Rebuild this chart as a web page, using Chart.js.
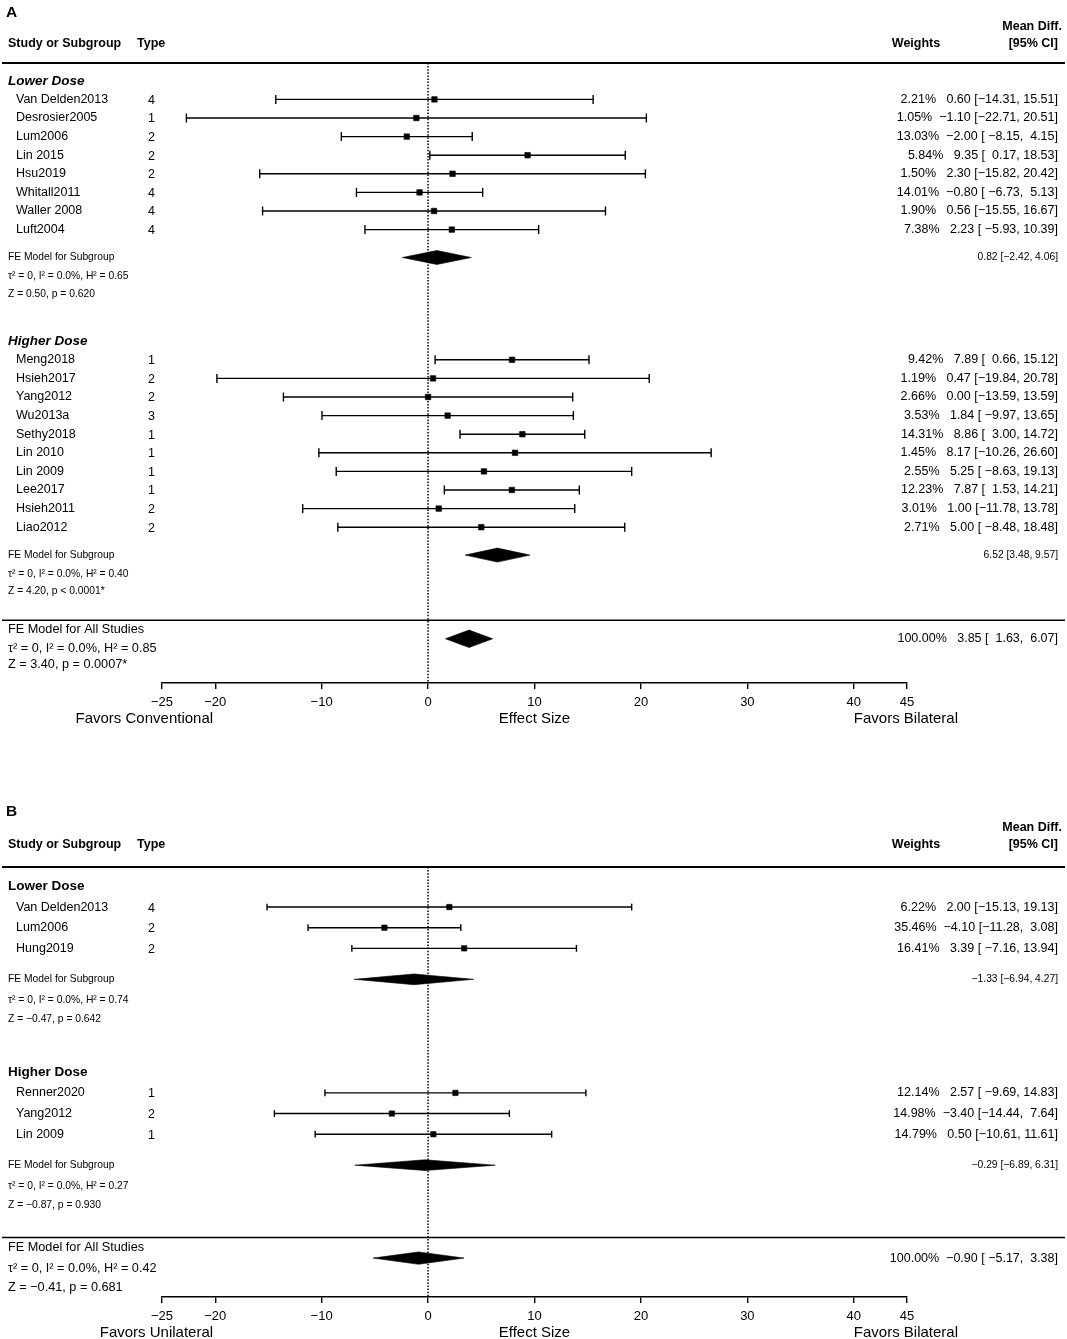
<!DOCTYPE html>
<html>
<head>
<meta charset="utf-8">
<script src="https://cdn.jsdelivr.net/npm/chart.js@4.4.0/dist/chart.umd.min.js"></script>
<style>
  html, body { margin: 0; padding: 0; background: #fff; overflow: hidden; }
  .panel { position: absolute; left: 0; }
</style>
</head>
<body>
<div class="panel" style="top:0px"><canvas id="chartA" width="1067" height="733"></canvas></div>
<div class="panel" style="top:790px"><canvas id="chartB" width="1067" height="557"></canvas></div>
<script>
// ---------- panel A : bilateral vs conventional ----------
var aStudy = ['Van Delden2013', 'Desrosier2005', 'Lum2006', 'Lin 2015', 'Hsu2019', 'Whitall2011', 'Waller 2008', 'Luft2004',
  'Meng2018', 'Hsieh2017', 'Yang2012', 'Wu2013a', 'Sethy2018', 'Lin 2010', 'Lin 2009', 'Lee2017', 'Hsieh2011', 'Liao2012'];
var aType   = [4, 1, 2, 2, 2, 4, 4, 4,  1, 2, 2, 3, 1, 1, 1, 1, 2, 2];
var aGroup  = [0, 0, 0, 0, 0, 0, 0, 0,  1, 1, 1, 1, 1, 1, 1, 1, 1, 1];
var aWeight = [2.21, 1.05, 13.03, 5.84, 1.50, 14.01, 1.90, 7.38,  9.42, 1.19, 2.66, 3.53, 14.31, 1.45, 2.55, 12.23, 3.01, 2.71];
var aEst    = [0.60, -1.10, -2.00, 9.35, 2.30, -0.80, 0.56, 2.23,  7.89, 0.47, 0.00, 1.84, 8.86, 8.17, 5.25, 7.87, 1.00, 5.00];
var aLower  = [-14.31, -22.71, -8.15, 0.17, -15.82, -6.73, -15.55, -5.93,  0.66, -19.84, -13.59, -9.97, 3.00, -10.26, -8.63, 1.53, -11.78, -8.48];
var aUpper  = [15.51, 20.51, 4.15, 18.53, 20.42, 5.13, 16.67, 10.39,  15.12, 20.78, 13.59, 13.65, 14.72, 26.60, 19.13, 14.21, 13.78, 18.48];
var aGroupName  = ['Lower Dose', 'Higher Dose'];
var aGroupEst   = [0.82, 6.52];
var aGroupLower = [-2.42, 3.48];
var aGroupUpper = [4.06, 9.57];
var aGroupHet   = ['\u03c4\u00b2 = 0, I\u00b2 = 0.0%, H\u00b2 = 0.65', '\u03c4\u00b2 = 0, I\u00b2 = 0.0%, H\u00b2 = 0.40'];
var aGroupZ     = ['Z = 0.50, p = 0.620', 'Z = 4.20, p < 0.0001*'];
var aOverall    = [3.85, 1.63, 6.07];   // est, lower, upper
var aOverallHet = '\u03c4\u00b2 = 0, I\u00b2 = 0.0%, H\u00b2 = 0.85';
var aOverallZ   = 'Z = 3.40, p = 0.0007*';
var aFavors     = ['Favors Conventional', 'Favors Bilateral'];

// ---------- panel B : bilateral vs unilateral ----------
var bStudy  = ['Van Delden2013', 'Lum2006', 'Hung2019', 'Renner2020', 'Yang2012', 'Lin 2009'];
var bType   = [4, 2, 2, 1, 2, 1];
var bGroup  = [0, 0, 0, 1, 1, 1];
var bWeight = [6.22, 35.46, 16.41, 12.14, 14.98, 14.79];
var bEst    = [2.00, -4.10, 3.39, 2.57, -3.40, 0.50];
var bLower  = [-15.13, -11.28, -7.16, -9.69, -14.44, -10.61];
var bUpper  = [19.13, 3.08, 13.94, 14.83, 7.64, 11.61];
var bGroupName  = ['Lower Dose', 'Higher Dose'];
var bGroupEst   = [-1.33, -0.29];
var bGroupLower = [-6.94, -6.89];
var bGroupUpper = [4.27, 6.31];
var bGroupHet   = ['\u03c4\u00b2 = 0, I\u00b2 = 0.0%, H\u00b2 = 0.74', '\u03c4\u00b2 = 0, I\u00b2 = 0.0%, H\u00b2 = 0.27'];
var bGroupZ     = ['Z = \u22120.47, p = 0.642', 'Z = \u22120.87, p = 0.930'];
var bOverall    = [-0.90, -5.17, 3.38];
var bOverallHet = '\u03c4\u00b2 = 0, I\u00b2 = 0.0%, H\u00b2 = 0.42';
var bOverallZ   = 'Z = \u22120.41, p = 0.681';
var bFavors     = ['Favors Unilateral', 'Favors Bilateral'];

var xTicks = [-25, -20, -10, 0, 10, 20, 30, 40, 45];

var FONT = '"Liberation Sans", Arial, Helvetica, sans-serif';
Chart.defaults.font.family = FONT;
Chart.defaults.color = '#000';

function fmt(v) { return v.toFixed(2).replace('-', '\u2212'); }
function pad(s, w) { while (s.length < w) s = ' ' + s; return s; }

function drawPanel(id, d, look) {
  // row layout of the forest plot (row units, top to bottom)
  var studyRow = [], headRow = [], sumRow = [];
  var r = 0;
  for (var g = 0; g < d.groupName.length; g++) {
    headRow[g] = r;
    var k = 0;
    for (var i = 0; i < d.study.length; i++) {
      if (d.group[i] === g) { k++; studyRow[i] = r + k; }
    }
    sumRow[g] = r + k + 1.5;
    r = r + k + 6;
  }
  var sepRow = r - 1;
  var yMin = (look.top - look.y0) / look.step;
  var yMax = (look.bottom - look.y0) / look.step;

  // datasets
  var ci = [], pts = [], dia = [];
  d.study.forEach(function (s, i) {
    ci.push({x: d.lower[i], y: studyRow[i]}, {x: d.upper[i], y: studyRow[i]}, {x: null, y: null});
    pts.push({x: d.est[i], y: studyRow[i]});
  });
  function diamond(est, lo, hi, row, h) {
    dia.push({x: lo, y: row}, {x: est, y: row - h}, {x: hi, y: row}, {x: est, y: row + h}, {x: lo, y: row}, {x: null, y: null});
  }
  d.groupEst.forEach(function (e, g) { diamond(e, d.groupLower[g], d.groupUpper[g], sumRow[g], look.subH); });
  diamond(d.overall[0], d.overall[1], d.overall[2], sepRow + 1, look.allH);

  // annotation column widths (metafor style padding)
  var wE = 0, wL = 0, wU = 0;
  d.est.concat([d.overall[0]]).forEach(function (v) { wE = Math.max(wE, fmt(v).length); });
  d.lower.concat([d.overall[1]]).forEach(function (v) { wL = Math.max(wL, fmt(v).length); });
  d.upper.concat([d.overall[2]]).forEach(function (v) { wU = Math.max(wU, fmt(v).length); });
  function annot(w, e, l, u) {
    return w + '  ' + pad(fmt(e), wE) + ' [' + pad(fmt(l), wL) + ', ' + pad(fmt(u), wU) + ']';
  }

  var textPlugin = {
    id: 'forestText',
    afterDraw: function (chart) {
      var ctx = chart.ctx, xs = chart.scales.x, ys = chart.scales.y;
      var top = chart.chartArea.top;
      function txt(s, x, y, size, align, style) {
        ctx.font = (style || '') + ' ' + size + 'px ' + FONT;
        ctx.textAlign = align;
        ctx.textBaseline = 'middle';
        ctx.fillText(s, x, y);
      }
      ctx.save();
      ctx.fillStyle = '#000';
      ctx.strokeStyle = '#000';
      // panel letter + header
      txt(look.letter, 6, look.letterY, 15.5, 'left', 'bold');
      txt('Study or Subgroup', 8, top + look.headY, 12.5, 'left', 'bold');
      txt('Type', 137, top + look.headY, 12.5, 'left', 'bold');
      txt('Weights', 916, top + look.headY, 12.5, 'center', 'bold');
      txt('Mean Diff.', 1062, top + look.meanY, 12.5, 'right', 'bold');
      txt('[95% CI]', 1058, top + look.headY, 12.5, 'right', 'bold');
      // rules
      ctx.lineWidth = 2;
      ctx.beginPath(); ctx.moveTo(2, top); ctx.lineTo(1065, top); ctx.stroke();
      var sy = ys.getPixelForValue(sepRow);
      ctx.lineWidth = 1.5;
      ctx.beginPath(); ctx.moveTo(2, sy); ctx.lineTo(1065, sy); ctx.stroke();
      // subgroup blocks
      d.groupName.forEach(function (name, g) {
        txt(name, 8, ys.getPixelForValue(headRow[g]), 13.5, 'left', look.italic ? 'italic bold' : 'bold');
        var yS = ys.getPixelForValue(sumRow[g]);
        txt('FE Model for Subgroup', 8, yS, 10.3, 'left');
        txt(d.groupHet[g], 8, ys.getPixelForValue(sumRow[g] + 1), 10.3, 'left');
        txt(d.groupZ[g], 8, ys.getPixelForValue(sumRow[g] + 1.95), 10.3, 'left');
        txt(fmt(d.groupEst[g]) + ' [' + fmt(d.groupLower[g]) + ', ' + fmt(d.groupUpper[g]) + ']', 1058, yS, 10.3, 'right');
      });
      // studies
      d.study.forEach(function (s, i) {
        var y = ys.getPixelForValue(studyRow[i]);
        txt(s, 16, y, 12.5, 'left');
        txt(String(d.type[i]), 148, y + 1, 12.5, 'left');
        txt(annot(d.weight[i].toFixed(2) + '%', d.est[i], d.lower[i], d.upper[i]), 1058, y, 12.5, 'right');
      });
      // overall
      txt('FE Model for All Studies', 8, ys.getPixelForValue(sepRow + 0.5), 12.7, 'left');
      txt(d.overallHet, 8, ys.getPixelForValue(sepRow + 1.5), 12.7, 'left');
      txt(d.overallZ, 8, ys.getPixelForValue(sepRow + 2.4), 12.7, 'left');
      txt(annot('100.00%', d.overall[0], d.overall[1], d.overall[2]), 1058, ys.getPixelForValue(sepRow + 1), 12.5, 'right');
      // favours labels beside the axis title
      var fy = xs.bottom - 14;
      txt(d.favors[0], xs.getPixelForValue(-20.2), fy, 15, 'right');
      txt(d.favors[1], xs.getPixelForValue(40), fy, 15, 'left');
      ctx.restore();
    }
  };

  new Chart(document.getElementById(id), {
    type: 'scatter',
    data: {
      datasets: [
        { data: [{x: 0, y: yMin}, {x: 0, y: yMax}], showLine: true, borderColor: '#000', borderWidth: 1.5,
          borderDash: [1.5, 1.6], pointRadius: 0 },
        { data: dia, showLine: true, fill: 'shape', backgroundColor: '#000', borderColor: '#000',
          borderWidth: 0.6, pointRadius: 0 },
        { data: ci, showLine: true, borderColor: '#000', borderWidth: 1.4, pointStyle: 'line',
          pointRotation: 90, pointRadius: look.cap, pointBorderColor: '#000', pointBorderWidth: 1.4 },
        { data: pts, showLine: false, pointStyle: 'rect', pointRadius: look.sq,
          pointBackgroundColor: '#000', pointBorderColor: '#000', pointBorderWidth: 0.6 }
      ]
    },
    options: {
      responsive: false,
      animation: false,
      events: [],
      layout: { padding: { left: 162, right: 160, top: look.top, bottom: 0 } },
      plugins: { legend: { display: false }, tooltip: { enabled: false } },
      scales: {
        x: {
          type: 'linear', min: -25, max: 45,
          afterBuildTicks: function (axis) { axis.ticks = xTicks.map(function (v) { return {value: v}; }); },
          afterFit: function (axis) { axis.height = 50; },
          grid: { drawOnChartArea: false, drawTicks: true, tickLength: 6, color: '#000', lineWidth: 1.4 },
          border: { display: true, color: '#000', width: 1.4 },
          ticks: { color: '#000', font: { size: 13 }, padding: 6, maxRotation: 0, autoSkip: false,
            callback: function (v) { return String(v).replace('-', '\u2212'); } },
          title: { display: true, text: 'Effect Size', color: '#000', font: { size: 15 }, padding: { top: 0, bottom: 5 } }
        },
        y: { type: 'linear', reverse: true, min: yMin, max: yMax, display: false }
      }
    },
    plugins: [textPlugin]
  });
}

drawPanel('chartA', {
  study: aStudy, type: aType, group: aGroup, weight: aWeight, est: aEst, lower: aLower, upper: aUpper,
  groupName: aGroupName, groupEst: aGroupEst, groupLower: aGroupLower, groupUpper: aGroupUpper,
  groupHet: aGroupHet, groupZ: aGroupZ, overall: aOverall, overallHet: aOverallHet, overallZ: aOverallZ, favors: aFavors
}, { top: 63, bottom: 683, y0: 80.8, step: 18.6, letter: 'A', letterY: 13, headY: -19, meanY: -36,
     italic: true, cap: 4.5, sq: 3.9, subH: 0.376, allH: 0.47 });

drawPanel('chartB', {
  study: bStudy, type: bType, group: bGroup, weight: bWeight, est: bEst, lower: bLower, upper: bUpper,
  groupName: bGroupName, groupEst: bGroupEst, groupLower: bGroupLower, groupUpper: bGroupUpper,
  groupHet: bGroupHet, groupZ: bGroupZ, overall: bOverall, overallHet: bOverallHet, overallZ: bOverallZ, favors: bFavors
}, { top: 77, bottom: 507, y0: 96.4, step: 20.65, letter: 'B', letterY: 21.7, headY: -22, meanY: -39.3,
     italic: false, cap: 3.4, sq: 3.8, subH: 0.26, allH: 0.30 });
</script>
</body>
</html>
